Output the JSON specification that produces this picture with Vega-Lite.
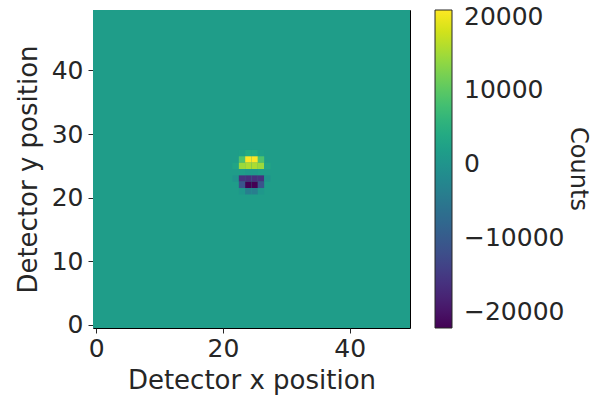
{
  "$schema": "https://vega.github.io/schema/vega-lite/v6.json",
  "autosize": {"type": "none"},
  "padding": {"left": 93, "top": 10, "right": 185, "bottom": 71},
  "width": 317,
  "height": 318,
  "background": "white",
  "config": {
    "font": "DejaVu Sans",
    "view": {"stroke": "#000000", "strokeWidth": 1},
    "axis": {
      "labelFontSize": 25,
      "titleFontSize": 26,
      "titleFontWeight": "normal",
      "labelColor": "#262626",
      "titleColor": "#262626",
      "tickColor": "#262626",
      "tickSize": 5,
      "grid": false,
      "domain": false
    },
    "legend": {
      "labelFontSize": 25,
      "titleFontSize": 24,
      "titleFontWeight": "normal",
      "labelColor": "#262626",
      "titleColor": "#262626"
    }
  },
  "data": {
    "values": [
      {"x0": -0.5, "x1": 49.5, "y0": -0.5, "y1": 49.5, "v": 1600},
      {"x0": 22.5, "x1": 23.5, "y0": 26.5, "y1": 27.5, "v": 2200},
      {"x0": 23.5, "x1": 24.5, "y0": 26.5, "y1": 27.5, "v": 4000},
      {"x0": 24.5, "x1": 25.5, "y0": 26.5, "y1": 27.5, "v": 4000},
      {"x0": 25.5, "x1": 26.5, "y0": 26.5, "y1": 27.5, "v": 2200},
      {"x0": 22.5, "x1": 23.5, "y0": 25.5, "y1": 26.5, "v": 9000},
      {"x0": 23.5, "x1": 24.5, "y0": 25.5, "y1": 26.5, "v": 20900},
      {"x0": 24.5, "x1": 25.5, "y0": 25.5, "y1": 26.5, "v": 20900},
      {"x0": 25.5, "x1": 26.5, "y0": 25.5, "y1": 26.5, "v": 9000},
      {"x0": 21.5, "x1": 22.5, "y0": 24.5, "y1": 25.5, "v": 3000},
      {"x0": 22.5, "x1": 23.5, "y0": 24.5, "y1": 25.5, "v": 14500},
      {"x0": 23.5, "x1": 24.5, "y0": 24.5, "y1": 25.5, "v": 15500},
      {"x0": 24.5, "x1": 25.5, "y0": 24.5, "y1": 25.5, "v": 15500},
      {"x0": 25.5, "x1": 26.5, "y0": 24.5, "y1": 25.5, "v": 14500},
      {"x0": 26.5, "x1": 27.5, "y0": 24.5, "y1": 25.5, "v": 3000},
      {"x0": 23.5, "x1": 24.5, "y0": 23.5, "y1": 24.5, "v": 1000},
      {"x0": 24.5, "x1": 25.5, "y0": 23.5, "y1": 24.5, "v": 1000},
      {"x0": 21.5, "x1": 22.5, "y0": 22.5, "y1": 23.5, "v": 0},
      {"x0": 22.5, "x1": 23.5, "y0": 22.5, "y1": 23.5, "v": -16000},
      {"x0": 23.5, "x1": 24.5, "y0": 22.5, "y1": 23.5, "v": -16500},
      {"x0": 24.5, "x1": 25.5, "y0": 22.5, "y1": 23.5, "v": -16500},
      {"x0": 25.5, "x1": 26.5, "y0": 22.5, "y1": 23.5, "v": -16000},
      {"x0": 26.5, "x1": 27.5, "y0": 22.5, "y1": 23.5, "v": 0},
      {"x0": 22.5, "x1": 23.5, "y0": 21.5, "y1": 22.5, "v": -11000},
      {"x0": 23.5, "x1": 24.5, "y0": 21.5, "y1": 22.5, "v": -22200},
      {"x0": 24.5, "x1": 25.5, "y0": 21.5, "y1": 22.5, "v": -22200},
      {"x0": 25.5, "x1": 26.5, "y0": 21.5, "y1": 22.5, "v": -11000},
      {"x0": 22.5, "x1": 23.5, "y0": 20.5, "y1": 21.5, "v": 500},
      {"x0": 23.5, "x1": 24.5, "y0": 20.5, "y1": 21.5, "v": -4000},
      {"x0": 24.5, "x1": 25.5, "y0": 20.5, "y1": 21.5, "v": -4000},
      {"x0": 25.5, "x1": 26.5, "y0": 20.5, "y1": 21.5, "v": 500}
    ]
  },
  "mark": {"type": "rect", "strokeWidth": 0},
  "encoding": {
    "x": {
      "field": "x0", "type": "quantitative",
      "scale": {"domain": [-0.5, 49.5], "nice": false, "zero": false},
      "axis": {"values": [0, 20, 40], "title": "Detector x position", "labelPadding": 3, "titlePadding": 6}
    },
    "x2": {"field": "x1"},
    "y": {
      "field": "y0", "type": "quantitative",
      "scale": {"domain": [-0.5, 49.5], "nice": false, "zero": false},
      "axis": {"values": [0, 10, 20, 30, 40], "title": "Detector y position", "labelPadding": 5, "titlePadding": 10}
    },
    "y2": {"field": "y1"},
    "color": {
      "field": "v", "type": "quantitative",
      "scale": {"scheme": "viridis", "domain": [-22200, 20900], "nice": false, "zero": false},
      "legend": {
        "title": "Counts",
        "orient": "none",
        "legendX": 342,
        "legendY": 0,
        "direction": "vertical",
        "gradientLength": 318,
        "gradientThickness": 17,
        "gradientStrokeColor": "#262626",
        "gradientStrokeWidth": 1,
        "values": [-20000, -10000, 0, 10000, 20000],
        "format": "d",
        "labelOffset": 12,
        "titleOrient": "right",
        "titleAngle": 270,
        "titleAnchor": "middle",
        "titleBaseline": "bottom",
        "titlePadding": 2
      }
    }
  }
}
